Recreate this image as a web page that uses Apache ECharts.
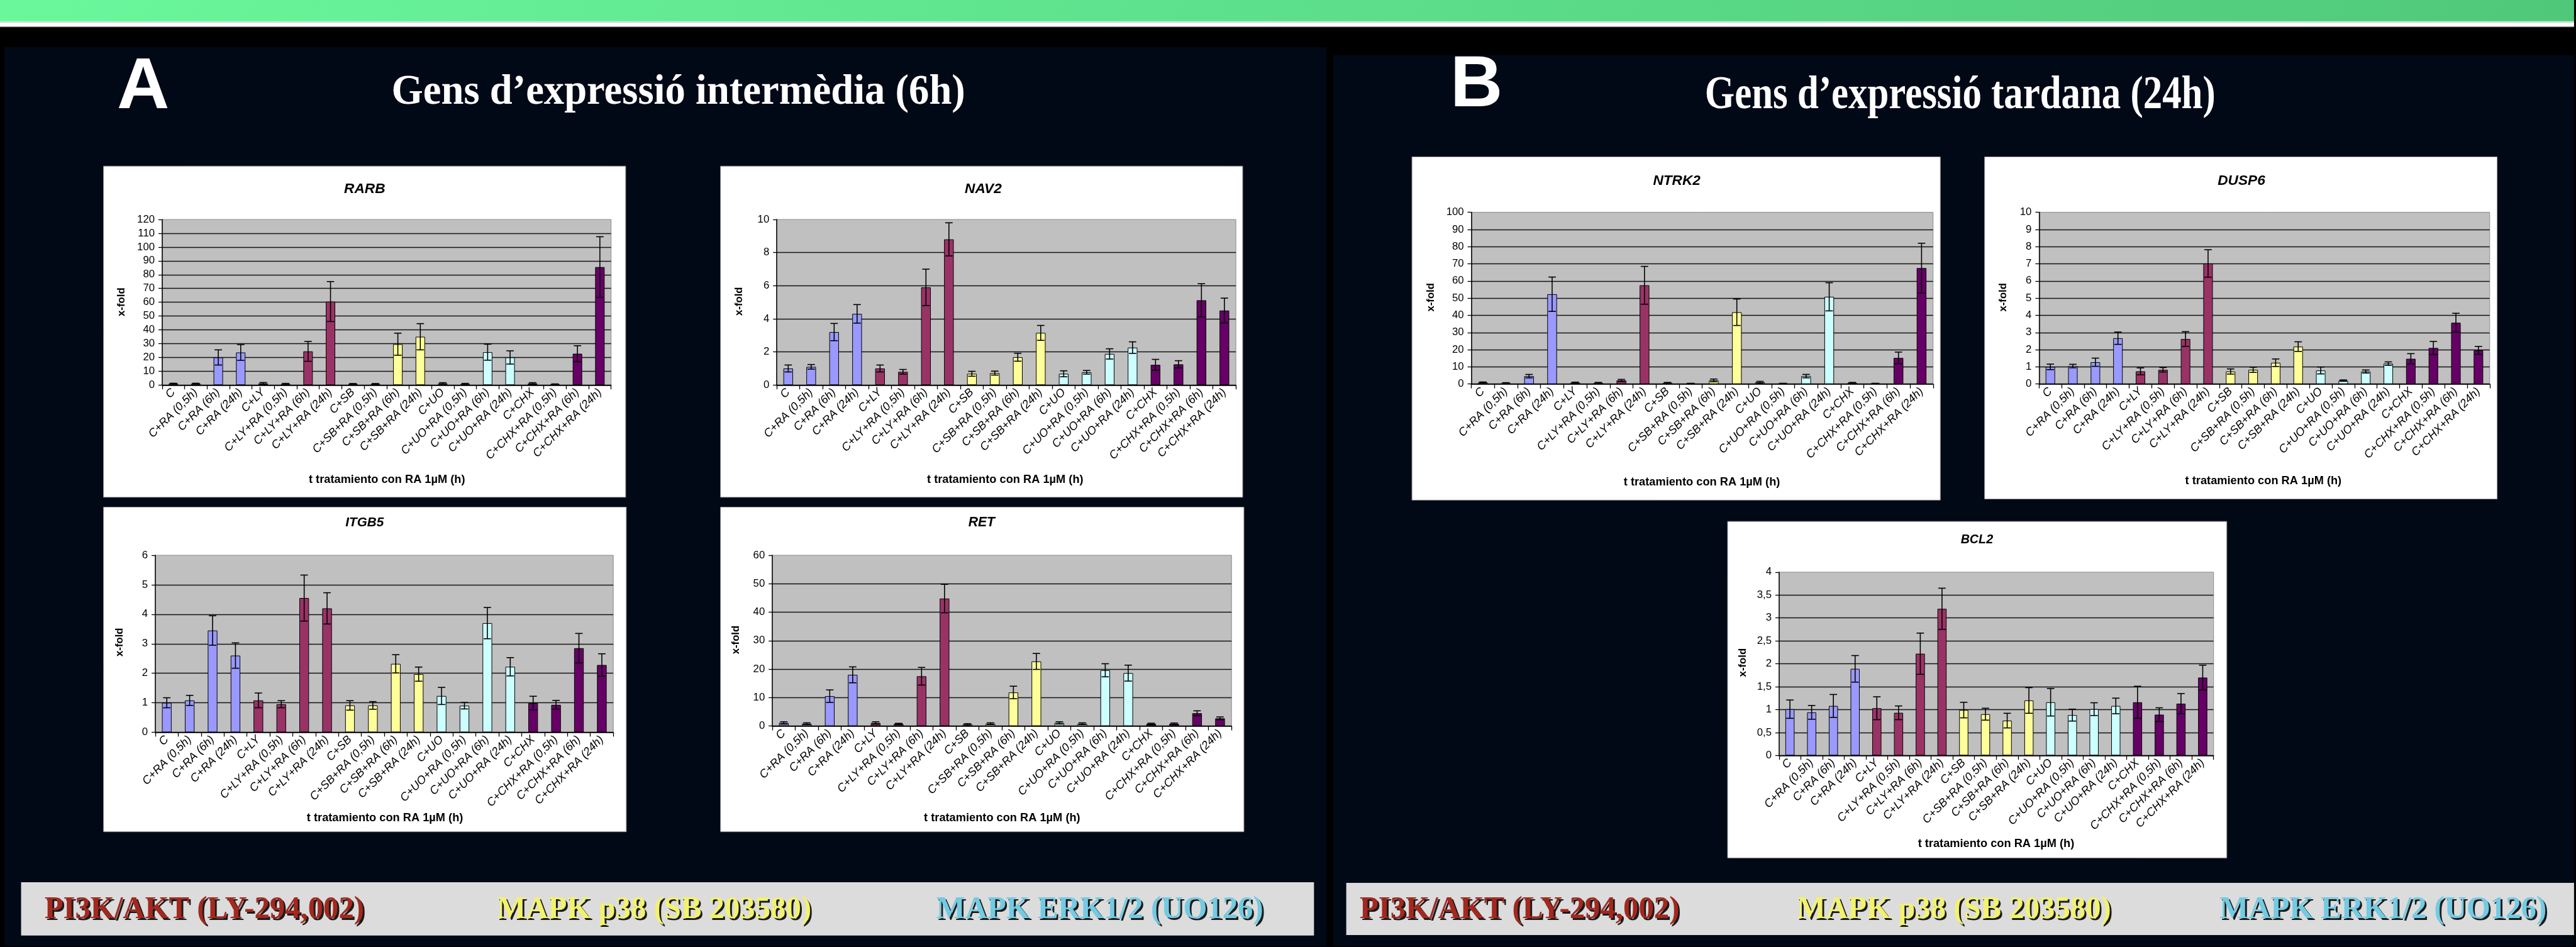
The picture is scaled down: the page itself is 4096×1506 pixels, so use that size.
<!DOCTYPE html>
<html>
<head>
<meta charset="utf-8">
<script src="https://cdn.jsdelivr.net/npm/echarts@6/dist/echarts.min.js"></script>
<style>
  html, body { margin: 0; padding: 0; background: #000; }
  #main { width: 4096px; height: 1506px; }
</style>
</head>
<body>
<div id="main"></div>
<script>
// everything is laid out in reference pixels and scaled down to the window
const S = 0.986;
const s = (v) => v * S;

const categories = [
  "C", "C+RA (0,5h)", "C+RA (6h)", "C+RA (24h)",
  "C+LY", "C+LY+RA (0,5h)", "C+LY+RA (6h)", "C+LY+RA (24h)",
  "C+SB", "C+SB+RA (0,5h)", "C+SB+RA (6h)", "C+SB+RA (24h)",
  "C+UO", "C+UO+RA (0,5h)", "C+UO+RA (6h)", "C+UO+RA (24h)",
  "C+CHX", "C+CHX+RA (0,5h)", "C+CHX+RA (6h)", "C+CHX+RA (24h)",
];
const groupColors = ["#9999FF", "#993366", "#FFFF99", "#CCFFFF", "#660066"];

const rarbValues = [1, 1, 20, 23.6, 1.2, 0.8, 24.4, 60.5, 0.8, 0.8, 29.6, 35, 1.2, 0.8, 23.8, 20, 1.2, 0.6, 22.7, 85.5];
const rarbErrors = [0.3, 0.3, 5.5, 5.7, 0.6, 0.4, 7.2, 14.5, 0.3, 0.3, 8, 9.5, 0.5, 0.4, 5.8, 4.8, 0.5, 0.2, 5.8, 22];

const nav2Values = [1, 1.1, 3.2, 4.3, 1, 0.8, 5.9, 8.8, 0.68, 0.72, 1.68, 3.15, 0.68, 0.77, 1.88, 2.26, 1.22, 1.25, 5.12, 4.5];
const nav2Errors = [0.21, 0.14, 0.52, 0.56, 0.21, 0.14, 1.1, 1.0, 0.15, 0.12, 0.24, 0.45, 0.18, 0.11, 0.31, 0.35, 0.33, 0.22, 1.0, 0.75];

const itgb5Values = [1.0, 1.08, 3.45, 2.6, 1.08, 0.95, 4.55, 4.2, 0.91, 0.91, 2.32, 1.97, 1.23, 0.9, 3.7, 2.22, 0.99, 0.93, 2.85, 2.28];
const itgb5Errors = [0.17, 0.17, 0.5, 0.43, 0.25, 0.12, 0.78, 0.53, 0.16, 0.13, 0.31, 0.24, 0.29, 0.11, 0.53, 0.31, 0.23, 0.15, 0.5, 0.38];

const retValues = [1.1, 0.83, 10.5, 18, 1.1, 0.75, 17.5, 44.8, 0.6, 0.83, 11.8, 22.7, 1.1, 0.83, 19.6, 18.6, 0.75, 0.83, 4.5, 2.7];
const retErrors = [0.4, 0.3, 2.2, 2.8, 0.4, 0.2, 3.1, 5.0, 0.25, 0.3, 2.2, 2.8, 0.4, 0.3, 2.3, 2.8, 0.25, 0.25, 0.85, 0.5];

const ntrk2Values = [0.9, 0.5, 4.6, 52.3, 0.8, 0.65, 2.1, 57.5, 0.65, 0.3, 2.1, 41.8, 1.05, 0.3, 4.6, 50.8, 0.65, 0.3, 15.2, 67.5];
const ntrk2Errors = [0.3, 0.3, 1.0, 10, 0.3, 0.3, 0.6, 11, 0.3, 0.15, 0.8, 7.7, 0.5, 0.15, 1.0, 8.2, 0.3, 0.15, 3.4, 14.5];

const dusp6Values = [1.0, 1.05, 1.27, 2.67, 0.74, 0.83, 2.62, 7.02, 0.73, 0.83, 1.24, 2.18, 0.79, 0.2, 0.73, 1.19, 1.47, 2.1, 3.57, 1.96];
const dusp6Errors = [0.16, 0.1, 0.24, 0.36, 0.2, 0.13, 0.43, 0.8, 0.15, 0.15, 0.22, 0.28, 0.2, 0.04, 0.09, 0.1, 0.3, 0.38, 0.55, 0.23];

const bcl2Values = [1.01, 0.94, 1.08, 1.89, 1.03, 0.93, 2.22, 3.2, 0.99, 0.9, 0.76, 1.2, 1.16, 0.88, 1.01, 1.08, 1.16, 0.89, 1.13, 1.7];
const bcl2Errors = [0.2, 0.15, 0.25, 0.29, 0.25, 0.15, 0.45, 0.45, 0.17, 0.13, 0.16, 0.28, 0.3, 0.13, 0.14, 0.17, 0.35, 0.15, 0.22, 0.27];

const legendLabels = ["PI3K/AKT (LY-294,002)", "MAPK p38 (SB 203580)", "MAPK ERK1/2 (UO126)"];
const legendColors = ["#A3281E", "#F2F26E", "#72CBE3"];

// box: white card, plot: plot area [x0, y0, x1, y1], title/yName/xName: centres
const charts = [
  { gene: "RARB", values: rarbValues, errors: rarbErrors, max: 120, interval: 10,
    box: [167, 268, 1009, 802], plot: [261.5, 354, 985.5, 621],
    title: [588, 305, 23], yName: [196, 487], xName: [624, 774] },
  { gene: "NAV2", values: nav2Values, errors: nav2Errors, max: 10, interval: 2,
    box: [1162, 268, 2004, 802], plot: [1252.6, 354, 1993, 621],
    title: [1585.6, 305, 23], yName: [1192, 486], xName: [1621, 774] },
  { gene: "ITGB5", values: itgb5Values, errors: itgb5Errors, max: 6, interval: 1,
    box: [167, 818, 1010, 1341.5], plot: [250.5, 895.6, 989, 1181],
    title: [588, 843, 21], yName: [193, 1035.7], xName: [620.8, 1319] },
  { gene: "RET", values: retValues, errors: retErrors, max: 60, interval: 10,
    box: [1162, 818, 2006, 1341.5], plot: [1245.5, 895.6, 1986, 1171],
    title: [1583, 843, 21.5], yName: [1187, 1032], xName: [1616, 1319] },
  { gene: "NTRK2", values: ntrk2Values, errors: ntrk2Errors, max: 100, interval: 10,
    box: [2277, 253, 3129, 806.6], plot: [2372.7, 342.4, 3117.4, 619.4],
    title: [2704, 292, 23], yName: [2307.7, 479.5], xName: [2744.5, 777.5] },
  { gene: "DUSP6", values: dusp6Values, errors: dusp6Errors, max: 10, interval: 1,
    box: [3200.5, 253, 4027, 804.8], plot: [3288.3, 342.4, 4015, 619.4],
    title: [3614.6, 292, 23], yName: [3230.7, 479.5], xName: [3650, 775.7] },
  { gene: "BCL2", values: bcl2Values, errors: bcl2Errors, max: 4, interval: 0.5,
    box: [2786, 841, 3591, 1383.7], plot: [2869, 922.8, 3569.7, 1218.4],
    title: [3188, 870.4, 20], yName: [2811, 1068.6], xName: [3219, 1360.7] },
];

const SANS = '"Liberation Sans", Arial, sans-serif';
const SERIF = '"Liberation Serif", "Times New Roman", serif';
const NAVY = "#010816";

function errorBar(params, api) {
  const x = api.value(0);
  const v = api.value(1);
  const e = api.value(2);
  const hi = api.coord([x, v + e]);
  const lo = api.coord([x, Math.max(0, v - e)]);
  const cap = s(6);
  const st = { stroke: "#000", lineWidth: s(1.6) };
  return {
    type: "group",
    children: [
      { type: "line", shape: { x1: hi[0], y1: hi[1], x2: lo[0], y2: lo[1] }, style: st },
      { type: "line", shape: { x1: hi[0] - cap, y1: hi[1], x2: hi[0] + cap, y2: hi[1] }, style: st },
      { type: "line", shape: { x1: lo[0] - cap, y1: lo[1], x2: lo[0] + cap, y2: lo[1] }, style: st },
    ],
  };
}

function rect(x, y, w, h, fill, extra) {
  return Object.assign({ type: "rect", silent: true, z: -10,
    shape: { x: s(x), y: s(y), width: s(w), height: s(h) }, style: { fill } }, extra || {});
}

function text(str, x, y, font, fill, extra) {
  return Object.assign({ type: "text", silent: true, z: 20, x: s(x), y: s(y),
    style: { text: str, font, fill, textAlign: "center", textVerticalAlign: "middle",
      align: "center", verticalAlign: "middle" } }, extra || {});
}

const grid = [], xAxis = [], yAxis = [], series = [];
const elements = [
  rect(0, 0, 4151, 34.5, new echarts.graphic.LinearGradient(0, 0, 1, 0, [
    { offset: 0, color: "#6AF79C" }, { offset: 1, color: "#50C87A" }])),
  rect(0, 34.3, 4151, 1.5, "#BDF7D2"),
  rect(0, 35.7, 4151, 7, "#FFFFFF"),
  rect(0, 42.7, 4151, 1.2, "#8C8C8C"),
  rect(7, 76, 2132, 1450, NAVY),
  rect(2150, 89, 2001, 1437, NAVY),
  rect(34, 1423, 2085, 86, "#DCDCDC"),
  rect(2171, 1424, 1980, 84, "#DCDCDC"),
  text("A", 231, 142, `bold ${s(117)}px ${SANS}`, "#FFFFFF"),
  text("B", 2381, 139.5, `bold ${s(117)}px ${SANS}`, "#FFFFFF"),
  text("Gens d\u2019expressi\u00f3 interm\u00e8dia (6h)", 1094, 150, `bold ${s(69)}px ${SERIF}`, "#FFFFFF", { scaleX: 0.95 }),
  text("Gens d\u2019expressi\u00f3 tardana (24h)", 3161, 155, `bold ${s(74)}px ${SERIF}`, "#FFFFFF", { scaleX: 0.834 }),
];

// pathway legend: dark drop shadow drawn under the coloured words
[[329.5, 1055, 1773.5], [2450.5, 3151, 3843]].forEach((xs) => {
  xs.forEach((x, k) => {
    const font = `bold ${s(51)}px ${SERIF}`;
    elements.push(text(legendLabels[k], x + 3, 1470.5, font, "#1A1A1A", { z: 19, scaleX: 0.97 }));
    elements.push(text(legendLabels[k], x, 1467.5, font, legendColors[k], { scaleX: 0.97 }));
  });
});

charts.forEach((c, i) => {
  const [bx0, by0, bx1, by1] = c.box;
  const [px0, py0, px1, py1] = c.plot;
  elements.push(rect(bx0, by0, bx1 - bx0, by1 - by0, "#FFFFFF", { z: -5,
    style: { fill: "#FFFFFF", stroke: "#9A9A9A", lineWidth: 1 } }));
  elements.push(text(c.gene, c.title[0], c.title[1], `italic bold ${s(c.title[2])}px ${SANS}`, "#000"));
  elements.push(text("x-fold", c.yName[0], c.yName[1], `bold ${s(17)}px ${SANS}`, "#000", { rotation: Math.PI / 2 }));
  elements.push(text("t tratamiento con RA 1\u00b5M (h)", c.xName[0], c.xName[1], `bold ${s(18.5)}px ${SANS}`, "#000"));

  grid.push({
    left: s(px0), top: s(py0), width: s(px1 - px0), height: s(py1 - py0),
    show: true, backgroundColor: "#C0C0C0", borderColor: "#8A8A8A", borderWidth: 1,
  });
  xAxis.push({
    type: "category", gridIndex: i, data: categories,
    axisLine: { lineStyle: { color: "#000", width: 1.5 } },
    axisTick: { show: true, interval: 0, length: s(7), lineStyle: { color: "#000", width: 1.3 } },
    axisLabel: { interval: 0, rotate: 45, margin: s(9), color: "#000",
      fontFamily: SANS, fontStyle: "italic", fontSize: s(18.5) },
    splitLine: { show: false },
  });
  yAxis.push({
    type: "value", gridIndex: i, min: 0, max: c.max, interval: c.interval,
    axisLine: { show: true, lineStyle: { color: "#000", width: 1.5 } },
    axisTick: { show: true, length: s(6), lineStyle: { color: "#000", width: 1.3 } },
    axisLabel: { margin: s(12), color: "#000", fontFamily: SANS, fontSize: s(17),
      formatter: (v) => String(v).replace(".", ",") },
    splitLine: { show: true, showMaxLine: false, lineStyle: { color: "#141414", width: 1.3 } },
  });
  series.push({
    type: "bar", xAxisIndex: i, yAxisIndex: i, data: c.values, barWidth: "42%",
    silent: true,
    itemStyle: { color: (p) => groupColors[Math.floor(p.dataIndex / 4)], borderColor: "#000", borderWidth: 1 },
  });
  series.push({
    type: "custom", xAxisIndex: i, yAxisIndex: i, z: 5, silent: true,
    data: c.values.map((v, k) => [k, v, c.errors[k]]),
    renderItem: errorBar,
  });
});

const chart = echarts.init(document.getElementById("main"));
chart.setOption({
  backgroundColor: "#000000",
  animation: false,
  grid, xAxis, yAxis, series,
  graphic: { elements },
});
</script>
</body>
</html>
